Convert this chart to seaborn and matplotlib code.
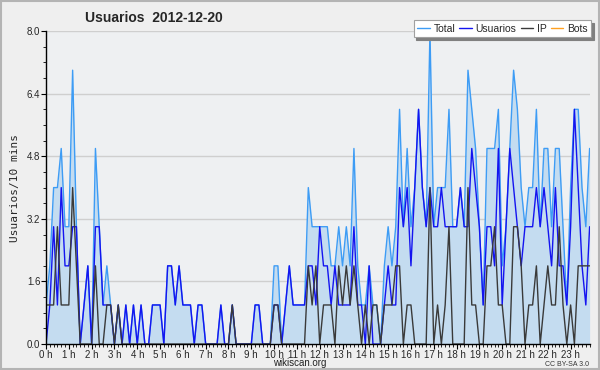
import matplotlib
matplotlib.use("Agg")
import matplotlib.pyplot as plt
from matplotlib.patches import Rectangle
import numpy as np
import pandas as pd
import seaborn as sns

# Edits per 10-minute slot on 2012-12-20 (one row per hour, 6 slots each)
total = [
    1, 2, 4, 4, 5, 3,
    3, 7, 3, 0, 1, 2,
    0, 5, 3, 1, 2, 1,
    0, 1, 0, 1, 0, 1,
    0, 1, 0, 0, 1, 1,
    1, 0, 2, 2, 1, 2,
    1, 1, 1, 0, 1, 1,
    0, 0, 0, 0, 1, 0,
    0, 1, 0, 0, 0, 0,
    0, 1, 1, 0, 0, 0,
    2, 2, 0, 1, 2, 1,
    1, 1, 1, 4, 3, 3,
    3, 3, 3, 2, 2, 3,
    2, 3, 2, 5, 2, 1,
    1, 2, 1, 1, 0, 2,
    3, 2, 3, 6, 3, 5,
    3, 4, 6, 4, 3, 8,
    3, 4, 4, 4, 6, 3,
    3, 4, 3, 7, 6, 5,
    3, 1, 5, 5, 5, 6,
    2, 3, 5, 7, 6, 4,
    3, 4, 4, 6, 3, 5,
    5, 3, 5, 5, 3, 1,
    4, 6, 6, 4, 3, 5,
]
usuarios = [
    0, 1, 3, 1, 4, 2,
    2, 3, 3, 0, 1, 2,
    0, 3, 3, 1, 1, 1,
    0, 1, 0, 1, 0, 1,
    0, 1, 0, 0, 1, 1,
    1, 0, 2, 2, 1, 2,
    1, 1, 1, 0, 1, 1,
    0, 0, 0, 0, 1, 0,
    0, 1, 0, 0, 0, 0,
    0, 1, 1, 0, 0, 0,
    1, 1, 0, 1, 2, 1,
    1, 1, 1, 2, 2, 1,
    3, 2, 2, 1, 2, 1,
    1, 1, 1, 3, 1, 1,
    0, 2, 0, 0, 0, 1,
    2, 1, 1, 4, 3, 4,
    2, 4, 6, 4, 3, 4,
    3, 3, 4, 3, 3, 3,
    3, 4, 3, 3, 5, 4,
    3, 1, 3, 3, 2, 5,
    1, 3, 5, 4, 3, 2,
    3, 3, 3, 4, 3, 4,
    3, 2, 4, 2, 2, 1,
    3, 6, 4, 2, 1, 3,
]
ip = [
    1, 1, 1, 3, 1, 1,
    1, 4, 2, 0, 0, 0,
    0, 2, 0, 0, 1, 1,
    0, 1, 0, 0, 0, 0,
    0, 0, 0, 0, 0, 0,
    0, 0, 0, 0, 0, 0,
    0, 0, 0, 0, 0, 0,
    0, 0, 0, 0, 0, 0,
    0, 1, 0, 0, 0, 0,
    0, 0, 0, 0, 0, 0,
    1, 1, 0, 0, 0, 0,
    0, 0, 0, 2, 1, 2,
    0, 1, 1, 1, 0, 2,
    1, 2, 1, 2, 1, 0,
    1, 0, 1, 1, 0, 1,
    1, 1, 2, 2, 0, 1,
    1, 0, 0, 0, 0, 4,
    0, 1, 0, 1, 3, 0,
    0, 0, 0, 4, 1, 1,
    0, 0, 2, 2, 3, 1,
    1, 0, 0, 3, 3, 2,
    0, 1, 1, 2, 0, 1,
    2, 1, 1, 3, 1, 0,
    1, 0, 2, 2, 2, 2,
]
bots = [0] * 144

hour_labels = [f"{h} h" for h in range(24)]
y_ticks = [0.0, 1.6, 3.2, 4.8, 6.4, 8.0]

df = pd.DataFrame({
    "slot": np.arange(len(total)),
    "Total": total,
    "Usuarios": usuarios,
    "IP": ip,
    "Bots": bots,
})

sns.set_theme(style="white")
plt.rcParams["font.family"] = ["Liberation Sans", "DejaVu Sans"]

fig = plt.figure(figsize=(6, 3.7), dpi=100, facecolor="#efefef")
ax = fig.add_axes([0.0767, 0.070, 0.906, 0.846])
ax.set_facecolor("#eef0f2")

# outer frame of the image
fig.patches.append(Rectangle((0.001, 0.002), 0.997, 0.995, transform=fig.transFigure,
                             fill=False, edgecolor="#b4b4b4", lw=1.5))

c_total = "#3d9cf5"
c_users = "#1414f0"
c_ip = "#3a3a3a"
c_bots = "#ffa020"

sns.lineplot(data=df, x="slot", y="Bots", color=c_bots, lw=1, label="Bots", ax=ax, zorder=1)
ax.fill_between(df["slot"], 0, df["Total"], color="#c4dcf0", lw=0, zorder=2)
sns.lineplot(data=df, x="slot", y="Total", color=c_total, lw=1, label="Total", ax=ax, zorder=3)
sns.lineplot(data=df, x="slot", y="Usuarios", color=c_users, lw=1, label="Usuarios", ax=ax, zorder=4)
sns.lineplot(data=df, x="slot", y="IP", color=c_ip, lw=1, label="IP", ax=ax, zorder=5)

ax.set_xlim(0, len(total) - 1)
ax.set_ylim(0, 8)

ax.set_yticks(y_ticks)
ax.set_yticklabels([f"{v:.1f}" for v in y_ticks], fontsize=7)
ax.set_yticks(np.arange(0, 8.01, 0.4), minor=True)
ax.set_xticks(np.arange(0, 144, 6))
ax.set_xticklabels(hour_labels, fontsize=7)
ax.set_xticks(np.arange(0, 144, 1), minor=True)
ax.tick_params(axis="both", which="major", direction="out", length=3.5, width=0.8,
               color="black", pad=0.5)
ax.tick_params(axis="both", which="minor", direction="out", length=2.5, width=0.6,
               color="black")
ax.tick_params(axis="x", which="both", bottom=True)
ax.tick_params(axis="y", which="both", left=True)

ax.grid(True, axis="y", color="#cfcfcf", lw=1, zorder=0)
ax.set_axisbelow(True)
for side in ["top", "right"]:
    ax.spines[side].set_visible(False)
for side in ["left", "bottom"]:
    ax.spines[side].set_color("black")
    ax.spines[side].set_linewidth(1)
    ax.spines[side].set_zorder(6)

ax.set_xlabel("")
ax.set_ylabel("Usuarios/10 mins", fontsize=8, family="DejaVu Sans Mono", labelpad=5)

fig.text(300 / 600, 1 - 363.5 / 370, "wikiscan.org", fontsize=7, ha="center",
         va="center", color="#222222")
fig.text(85 / 600, 1 - 18 / 370, "Usuarios  2012-12-20", fontsize=10,
         fontweight="bold", ha="left", va="center")
fig.text(589 / 600, 1 - 364 / 370, "CC BY-SA 3.0", fontsize=5, ha="right",
         va="center", color="#333333")

handles, labels = ax.get_legend_handles_labels()
order = [labels.index(n) for n in ["Total", "Usuarios", "IP", "Bots"]]
leg = ax.legend([handles[i] for i in order], [labels[i] for i in order],
                ncol=4, loc="upper right", bbox_to_anchor=(591 / 600, 1 - 20 / 370),
                bbox_transform=fig.transFigure, fontsize=7.5, frameon=True,
                fancybox=False, shadow={"color": "#808080", "alpha": 1},
                edgecolor="#a0a0a0", framealpha=1, handlelength=1.2,
                handletextpad=0.35, columnspacing=0.4, borderpad=0.35,
                borderaxespad=0)
leg.get_frame().set_facecolor("white")
leg.get_frame().set_linewidth(0.8)
leg.set_zorder(10)

fig.savefig("out.png", dpi=100, facecolor=fig.get_facecolor())
